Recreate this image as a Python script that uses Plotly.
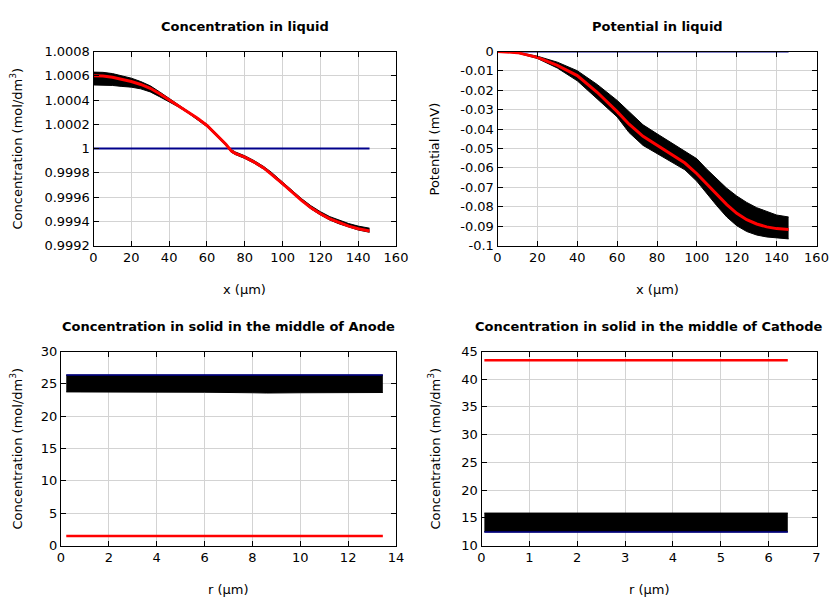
import plotly.graph_objects as go

# ---------------- Data ----------------
# Top-left: concentration in liquid
cl_x = [0, 5, 10, 15, 20, 25, 30, 35, 40, 45, 50, 55, 60, 65, 70, 73, 75, 80, 85, 90, 94,
        97, 100, 105, 110, 115, 120, 125, 130, 135, 140, 146]
cl_red = [1.000600, 1.000598, 1.000588, 1.000572, 1.000552, 1.000528, 1.000497, 1.000452, 1.000400,
          1.000352, 1.000303, 1.000250, 1.000190, 1.000115, 1.000035, 0.999978, 0.999960, 0.999928,
          0.999888, 0.999840, 0.999793, 0.999750, 0.999710, 0.999640, 0.999572, 0.999512, 0.999462,
          0.999420, 0.999388, 0.999360, 0.999338, 0.999319]
cl_top = [1.000630, 1.000628, 1.000618, 1.000602, 1.000580, 1.000552, 1.000517, 1.000467, 1.000414,
          1.000364, 1.000313, 1.000260, 1.000200, 1.000125, 1.000045, 0.999990, 0.999972, 0.999940,
          0.999900, 0.999852, 0.999805, 0.999763, 0.999723, 0.999654, 0.999587, 0.999528, 0.999479,
          0.999438, 0.999407, 0.999381, 0.999360, 0.999343]
cl_bot = [1.000524, 1.000524, 1.000520, 1.000512, 1.000506, 1.000492, 1.000467, 1.000427, 1.000386,
          1.000342, 1.000293, 1.000240, 1.000180, 1.000105, 1.000025, 0.999968, 0.999950, 0.999918,
          0.999878, 0.999830, 0.999783, 0.999740, 0.999700, 0.999630, 0.999562, 0.999502, 0.999452,
          0.999410, 0.999378, 0.999350, 0.999328, 0.999309]
cl_blue_x = [0, 146]
cl_blue = [1.0, 1.0]

# Top-right: potential in liquid
pl_x = [0, 10, 20, 30, 40, 50, 60, 66, 73, 80, 87, 94, 100, 105, 110, 115, 120, 125, 130, 135, 140, 146]
pl_red = [0, -0.0006, -0.0030, -0.0072, -0.0124, -0.0210, -0.0310, -0.0375, -0.0437, -0.0483, -0.0529,
          -0.0575, -0.0630, -0.0683, -0.0737, -0.0789, -0.0834, -0.0867, -0.0889, -0.0904, -0.0913, -0.0918]
pl_top = [0, -0.0004, -0.0024, -0.0055, -0.0099, -0.0170, -0.0252, -0.0310, -0.0378, -0.0424, -0.0469,
          -0.0515, -0.0553, -0.0607, -0.0658, -0.0705, -0.0745, -0.0778, -0.0805, -0.0826, -0.0843, -0.0853]
pl_bot = [0, -0.0008, -0.0036, -0.0085, -0.0151, -0.0245, -0.0337, -0.0418, -0.0484, -0.0526, -0.0568,
          -0.0610, -0.0669, -0.0733, -0.0795, -0.0853, -0.0898, -0.0928, -0.0946, -0.0956, -0.0962, -0.0966]
pl_blue_x = [0, 146]
pl_blue = [0, 0]

# Bottom-left: solid concentration in the middle of anode
an_x = [0.22, 2, 4, 6, 8, 8.6, 10, 12, 13.45]
an_top = [26.35, 26.35, 26.35, 26.35, 26.35, 26.35, 26.35, 26.35, 26.35]
an_bot = [23.75, 23.75, 23.72, 23.70, 23.62, 23.58, 23.62, 23.66, 23.66]
an_blue = [26.35] * 9
an_red = [1.45] * 9

# Bottom-right: solid concentration in the middle of cathode
ca_x = [0.06, 1, 2, 3, 4, 5, 6, 6.4]
ca_top = [15.85] * 8
ca_bot = [12.45] * 8
ca_blue = [12.45] * 8
ca_red = [43.4] * 8

# Tick labels
tl_yvals = [0.9992, 0.9994, 0.9996, 0.9998, 1.0, 1.0002, 1.0004, 1.0006, 1.0008]
tl_ytext = ["0.9992", "0.9994", "0.9996", "0.9998", "1", "1.0002", "1.0004", "1.0006", "1.0008"]
tr_yvals = [0, -0.01, -0.02, -0.03, -0.04, -0.05, -0.06, -0.07, -0.08, -0.09, -0.1]
tr_ytext = ["0", "-0.01", "-0.02", "-0.03", "-0.04", "-0.05", "-0.06", "-0.07", "-0.08", "-0.09", "-0.1"]

titles = ["Concentration in liquid", "Potential in liquid",
          "Concentration in solid in the middle of Anode", "Concentration in solid in the middle of Cathode"]
ylabels = ["Concentration (mol/dm<sup>3</sup>)", "Potential (mV)",
           "Concentration (mol/dm<sup>3</sup>)", "Concentration (mol/dm<sup>3</sup>)"]
xlabels = ["x (µm)", "x (µm)", "r (µm)", "r (µm)"]

# ---------------- Figure ----------------
OFF = 8  # page body margin
W, H = 840 - OFF, 600 - OFF
BLACK = "#000000"
RED = "#ff0000"
BLUE = "#00008b"
FS = 13

# plot areas in page pixels: (left, right, top, bottom)
areas = [(93.5, 396, 51.5, 245.5), (497.5, 816.5, 51.5, 245.5),
         (61, 396, 351.5, 545.5), (481.5, 816.5, 351.5, 545.5)]

fig = go.Figure()


def band(xs, lo, hi, ax):
    fig.add_trace(go.Scatter(x=xs, y=lo, mode="lines", line=dict(color=BLACK, width=1),
                             xaxis=ax[0], yaxis=ax[1], showlegend=False, hoverinfo="skip"))
    fig.add_trace(go.Scatter(x=xs, y=hi, mode="lines", line=dict(color=BLACK, width=1),
                             fill="tonexty", fillcolor=BLACK,
                             xaxis=ax[0], yaxis=ax[1], showlegend=False, hoverinfo="skip"))


def line(xs, ys, color, width, ax):
    fig.add_trace(go.Scatter(x=xs, y=ys, mode="lines", line=dict(color=color, width=width),
                             xaxis=ax[0], yaxis=ax[1], showlegend=False))


# Panel 1
band(cl_x, cl_bot, cl_top, ("x", "y"))
line(cl_blue_x, cl_blue, BLUE, 2, ("x", "y"))
line(cl_x, cl_red, RED, 3, ("x", "y"))
# Panel 2
band(pl_x, pl_bot, pl_top, ("x2", "y2"))
line(pl_blue_x, pl_blue, BLUE, 2, ("x2", "y2"))
line(pl_x, pl_red, RED, 3, ("x2", "y2"))
# Panel 3
band(an_x, an_bot, an_top, ("x3", "y3"))
line(an_x, an_blue, BLUE, 1.5, ("x3", "y3"))
line(an_x, an_red, RED, 2.5, ("x3", "y3"))
# Panel 4
band(ca_x, ca_bot, ca_top, ("x4", "y4"))
line(ca_x, ca_blue, BLUE, 1.5, ("x4", "y4"))
line(ca_x, ca_red, RED, 2.5, ("x4", "y4"))

axis_common = dict(showline=True, linecolor=BLACK, linewidth=1, mirror="ticks",
                   ticks="inside", ticklen=5, tickcolor=BLACK, tickwidth=1,
                   showgrid=True, gridcolor="#d3d3d3", gridwidth=1, zeroline=False,
                   automargin=False,
                   tickfont=dict(family="DejaVu Sans", size=FS, color=BLACK))

xranges = [(0, 160, 20), (0, 160, 20), (0, 14, 2), (0, 7, 1)]
yranges = [(0.9992, 1.0008), (-0.1, 0), (0, 30), (10, 45)]
ydticks = [None, None, 5, 5]

annotations = []
for i, (l, r, t, b) in enumerate(areas):
    l, r, t, b = l - OFF, r - OFF, t - OFF, b - OFF
    n = "" if i == 0 else str(i + 1)
    xd = [l / W, r / W]
    yd = [1 - b / H, 1 - t / H]
    xa = dict(axis_common, domain=xd, range=[xranges[i][0], xranges[i][1]],
              dtick=xranges[i][2], tick0=0, anchor="y" + n)
    ya = dict(axis_common, domain=yd, range=list(yranges[i]), anchor="x" + n)
    if i == 0:
        ya.update(tickmode="array", tickvals=tl_yvals, ticktext=tl_ytext)
    elif i == 1:
        ya.update(tickmode="array", tickvals=tr_yvals, ticktext=tr_ytext)
    else:
        ya.update(dtick=ydticks[i], tick0=0)
    fig.layout["xaxis" + n] = xa
    fig.layout["yaxis" + n] = ya

    cx = (l + r) / 2 / W
    annotations.append(dict(text="<b>" + titles[i] + "</b>", x=cx, y=1 - (t - 25) / H,
                            xref="paper", yref="paper", showarrow=False, xanchor="center",
                            yanchor="middle", font=dict(family="DejaVu Sans", size=FS, color=BLACK)))
    annotations.append(dict(text=xlabels[i], x=cx, y=1 - (b + 44) / H,
                            xref="paper", yref="paper", showarrow=False, xanchor="center",
                            yanchor="middle", font=dict(family="DejaVu Sans", size=FS, color=BLACK)))
    lx = (16 if i in (0, 2) else 434) - OFF
    annotations.append(dict(text=ylabels[i], x=lx / W, y=1 - (t + b) / 2 / H,
                            xref="paper", yref="paper", showarrow=False, xanchor="center",
                            yanchor="middle", textangle=-90,
                            font=dict(family="DejaVu Sans", size=FS, color=BLACK)))

fig.update_layout(width=W, height=H, margin=dict(l=0, r=0, t=0, b=0),
                  paper_bgcolor="white", plot_bgcolor="white",
                  annotations=annotations, showlegend=False)

fig.write_html("out.html")
